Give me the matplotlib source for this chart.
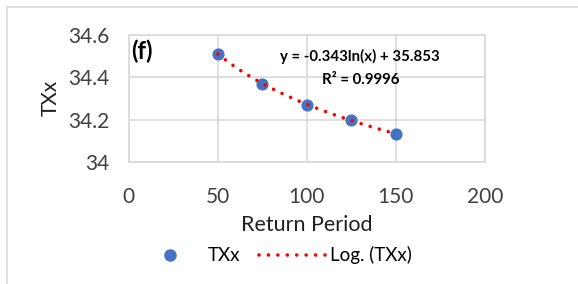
import numpy as np
import matplotlib
matplotlib.use('Agg')
import matplotlib.pyplot as plt
from matplotlib.patches import Rectangle
from matplotlib.lines import Line2D

# Data
return_period = [50, 75, 100, 125, 150]
txx = [34.51, 34.37, 34.27, 34.20, 34.13]
x_ticks = [0, 50, 100, 150, 200]
y_ticks = [34, 34.2, 34.4, 34.6]
y_tick_labels = ['34', '34.2', '34.4', '34.6']

plt.rcParams['font.family'] = ['Lato', 'DejaVu Sans']

fig = plt.figure(figsize=(5.78, 2.84), dpi=100)
ax = fig.add_axes([0.223, 0.430, 0.616, 0.447])

# outer chart border
fig.patches.append(Rectangle((0.012, -0.1), 1.1, 1.075, transform=fig.transFigure,
                             fill=False, edgecolor='#d9d9d9', linewidth=1.2))

# logarithmic trendline fitted to the points
coef = np.polyfit(np.log(return_period), txx, 1)
xs = np.linspace(min(return_period), max(return_period), 200)
ys = coef[0] * np.log(xs) + coef[1]

ax.scatter(return_period, txx, s=60, color='#4472C4', zorder=3)
ax.plot(xs, ys, color='#ff0000', linewidth=2.6, linestyle=(0, (0.01, 2.6)),
        dash_capstyle='round', zorder=4)

ax.set_xlim(0, 200)
ax.set_ylim(34, 34.6)
ax.set_xticks(x_ticks)
ax.set_yticks(y_ticks)
ax.set_yticklabels(y_tick_labels)
ax.tick_params(length=0, labelsize=15, labelcolor='#404040')
ax.tick_params(axis='y', pad=14)
ax.tick_params(axis='x', pad=18)
ax.grid(True, color='#d9d9d9', linewidth=1.2)
ax.set_axisbelow(True)
for s in ax.spines.values():
    s.set_color('#d9d9d9')
    s.set_linewidth(1.2)

ax.set_xlabel('Return Period', fontsize=15.5, color='#202020', labelpad=5.5)
ax.set_ylabel('TXx', fontsize=15, color='#202020', labelpad=5.5)

ax.text(0.006, 0.96, '(f)', transform=ax.transAxes, fontsize=17, fontweight='bold',
        va='top', ha='left')
ax.text(130, 34.497, 'y = -0.343ln(x) + 35.853', fontsize=10.8, fontweight='bold',
        ha='center', va='center')
ax.text(130, 34.387, 'R² = 0.9996', fontsize=10.8, fontweight='bold',
        ha='center', va='center')

handles = [
    Line2D([], [], marker='o', linestyle='none', color='#4472C4', markersize=8),
    Line2D([], [], color='#ff0000', linewidth=2.6, linestyle=(0, (0.01, 2.6)),
           dash_capstyle='round'),
]
fig.legend(handles, ['TXx', 'Log. (TXx)'], loc='center', bbox_to_anchor=(0.475, 0.102),
           ncol=2, frameon=False, fontsize=13.5, handlelength=3.5, columnspacing=1.0,
           handletextpad=0.25, borderpad=0, borderaxespad=0)

fig.savefig('out.png', dpi=100)
